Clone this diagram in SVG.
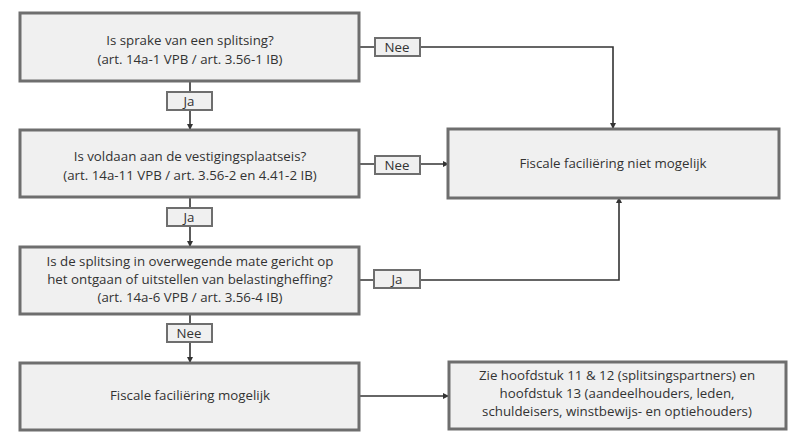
<svg xmlns="http://www.w3.org/2000/svg" width="800" height="445" viewBox="0 0 800 445">
<style>
.box{fill:#f0f0f0;stroke:#6e6e6e;stroke-width:3}
.lbl{fill:#f0f0f0;stroke:#6e6e6e;stroke-width:2}
text{font-family:"Open Sans","Liberation Sans",sans-serif;font-size:13.3px;fill:#333;text-anchor:middle}
.c{fill:none;stroke:#333;stroke-width:1.6}
</style>
<defs><marker id="a" markerWidth="6" markerHeight="6" refX="5" refY="3" orient="auto" markerUnits="userSpaceOnUse"><path d="M0,0L6,3L0,6z" fill="#333"/></marker></defs>
<rect width="800" height="445" fill="#fff"/>
<g id="connectors">
<path class="c" d="M190,81V129" marker-end="url(#a)"/>
<path class="c" d="M190,197V246" marker-end="url(#a)"/>
<path class="c" d="M190,314V362" marker-end="url(#a)"/>
<path class="c" d="M359,47H613V128" marker-end="url(#a)"/>
<path class="c" d="M359,164H448" marker-end="url(#a)"/>
<path class="c" d="M359,280H619V198" marker-end="url(#a)"/>
<path class="c" d="M359,396H448" marker-end="url(#a)"/>
<g id="labels">
<rect class="lbl" x="375" y="38" width="45" height="18"/><text x="397" y="52">Nee</text>
<rect class="lbl" x="167" y="92" width="45" height="18"/><text x="189" y="106">Ja</text>
<rect class="lbl" x="375" y="156" width="45" height="18"/><text x="397" y="170">Nee</text>
<rect class="lbl" x="167" y="208" width="45" height="18"/><text x="189" y="222">Ja</text>
<rect class="lbl" x="374" y="270" width="46" height="18"/><text x="397" y="284">Ja</text>
<rect class="lbl" x="167" y="324" width="45" height="18"/><text x="189" y="338">Nee</text>
</g>
</g>
<g id="n1"><rect class="box" x="20" y="13" width="339" height="68"/><text x="190" y="45">Is sprake van een splitsing?</text><text x="190" y="64">(art. 14a-1 VPB / art. 3.56-1 IB)</text></g>
<g id="n2"><rect class="box" x="20" y="130" width="339" height="67"/><text x="190" y="161">Is voldaan aan de vestigingsplaatseis?</text><text x="190" y="180">(art. 14a-11 VPB / art. 3.56-2 en 4.41-2 IB)</text></g>
<g id="n3"><rect class="box" x="20" y="247" width="339" height="67"/><text x="190" y="266">Is de splitsing in overwegende mate gericht op</text><text x="190" y="284">het ontgaan of uitstellen van belastingheffing?</text><text x="190" y="302">(art. 14a-6 VPB / art. 3.56-4 IB)</text></g>
<g id="n4"><rect class="box" x="20" y="363" width="339" height="67"/><text x="190" y="400">Fiscale faciliëring mogelijk</text></g>
<g id="n5"><rect class="box" x="448" y="129" width="331" height="69"/><text x="613" y="168">Fiscale faciliëring niet mogelijk</text></g>
<g id="n6"><rect class="box" x="449" y="362" width="337" height="67"/><text x="617" y="380">Zie hoofdstuk 11 &amp; 12 (splitsingspartners) en</text><text x="617" y="398">hoofdstuk 13 (aandeelhouders, leden,</text><text x="617" y="416">schuldeisers, winstbewijs- en optiehouders)</text></g>
</svg>
